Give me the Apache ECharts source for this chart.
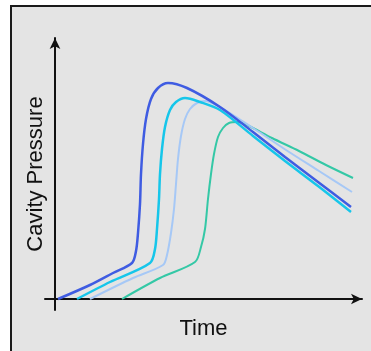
<!DOCTYPE html>
<html>
<head>
<meta charset="utf-8">
<style>
  html, body { margin: 0; padding: 0; background: #ffffff; }
  #chart { width: 371px; height: 351px; }
</style>
<script src="https://cdn.jsdelivr.net/npm/echarts@6/dist/echarts.min.js"></script>
</head>
<body>
<div id="chart"></div>
<script>
// Cavity pressure curves over time: [time, pressure] pairs (arbitrary units)
const curveBlue = [
  [3, 0], [35, 14], [58, 26], [77, 36], [81, 48], [83, 66], [85, 95],
  [86, 125], [88, 155], [91, 180], [96, 200], [103, 211], [113, 216], [132, 211], [165, 192],
  [198, 167], [230, 142], [263, 117], [296, 92]
];
const curveCyan = [
  [22, 0], [55, 17], [95, 36], [100, 50], [102, 70], [104, 100], [105, 125], [107, 150],
  [110, 172], [115, 189], [121, 197], [130, 201], [145, 197], [165, 189],
  [198, 163], [230, 138], [263, 113], [296, 87]
];
const curveLightBlue = [
  [35, 0], [78, 21], [108, 34], [112, 44], [116, 66], [119, 90], [121, 115], [123, 140],
  [126, 163], [130, 180], [135, 190], [142, 196], [150, 198], [165, 192],
  [198, 171], [231, 149], [264, 128], [297, 107]
];
const curveTeal = [
  [67, 0], [105, 21], [140, 37], [146, 52], [150, 70], [153, 100], [156, 125], [159, 145],
  [163, 162], [168, 171], [174, 176], [182, 177], [190, 175],
  [217, 161], [244, 148], [271, 134], [298, 121]
];

const seriesNames = ['A', 'B', 'C', 'D'];
const seriesData = [curveTeal, curveLightBlue, curveCyan, curveBlue];
const seriesColors = ['#34c8a6', '#a6c8f6', '#16c6ea', '#3f5ce2'];
const seriesWidths = [2, 2, 2.5, 2.5];

const chart = echarts.init(document.getElementById('chart'), null, { renderer: 'canvas' });

const axisLine = {
  show: true,
  onZero: true,
  symbol: ['none', 'arrow'],
  symbolSize: [8, 11],
  lineStyle: { color: '#111111', width: 2 }
};

chart.setOption({
  animation: false,
  backgroundColor: '#ffffff',
  graphic: [
    {
      type: 'rect',
      z: -10,
      silent: true,
      shape: { x: 11, y: 6, width: 380, height: 360 },
      style: { fill: '#e4e4e4', stroke: '#1a1a1a', lineWidth: 2 }
    }
  ],
  grid: { left: 45, right: 9, top: 38, bottom: 41 },
  xAxis: {
    type: 'value',
    min: -10,
    max: 307,
    name: 'Time',
    nameLocation: 'middle',
    nameGap: 8,
    nameTextStyle: { fontFamily: 'Liberation Sans', fontSize: 22, color: '#111111' },
    axisLine: axisLine,
    axisTick: { show: false },
    axisLabel: { show: false },
    splitLine: { show: false }
  },
  yAxis: {
    type: 'value',
    min: -11,
    max: 261,
    name: 'Cavity Pressure',
    nameLocation: 'middle',
    nameGap: -2,
    nameTextStyle: { fontFamily: 'Liberation Sans', fontSize: 22, color: '#111111' },
    axisLine: axisLine,
    axisTick: { show: false },
    axisLabel: { show: false },
    splitLine: { show: false }
  },
  series: seriesData.map((d, i) => ({
    name: seriesNames[i],
    type: 'line',
    data: d,
    smooth: 0.3,
    showSymbol: false,
    lineStyle: { color: seriesColors[i], width: seriesWidths[i] },
    z: 2 + i
  }))
});
</script>
</body>
</html>
